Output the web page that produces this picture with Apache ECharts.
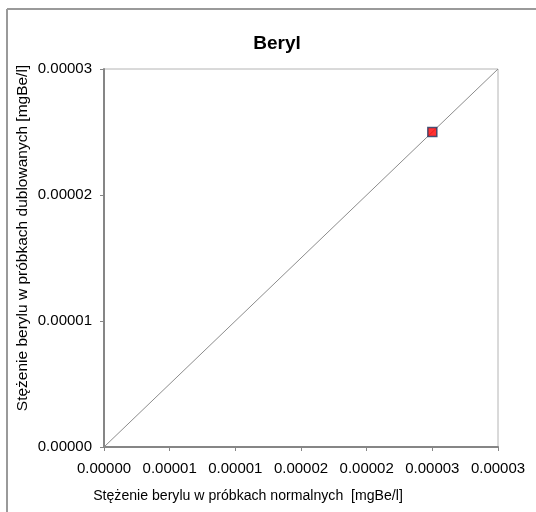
<!DOCTYPE html>
<html>
<head>
<meta charset="utf-8">
<script src="https://cdn.jsdelivr.net/npm/echarts@6/dist/echarts.min.js"></script>
<style>
html,body{margin:0;padding:0;background:#fff;}
#c{width:536px;height:512px;}
</style>
</head>
<body>
<div id="c"></div>
<script>
var title = 'Beryl';
var xName = 'Stężenie berylu w próbkach normalnych  [mgBe/l]';
var yName = 'Stężenie berylu w próbkach dublowanych [mgBe/l]';
var xTickLabels = ['0.00000','0.00001','0.00001','0.00002','0.00002','0.00003','0.00003'];
var yTickLabels = ['0.00000','0.00001','0.00002','0.00003'];
var lineX = [0, 0.00003];
var lineY = [0, 0.00003];
var pointX = [0.000025];
var pointY = [0.000025];

var FONT = '"Liberation Sans",Arial,sans-serif';
var chart = echarts.init(document.getElementById('c'), null, {renderer:'canvas'});
chart.setOption({
  animation:false,
  backgroundColor:'#fff',
  title:{text:title,left:272,top:29,textAlign:'center',
    textStyle:{fontFamily:FONT,fontSize:19,fontWeight:'bold',color:'#000'}},
  grid:{left:104,top:69,right:38,bottom:65,show:true,borderColor:'#b4b4b4',borderWidth:1,backgroundColor:'#fff'},
  xAxis:{type:'value',min:0,max:0.00003,interval:0.000005,
    axisLine:{show:true,lineStyle:{color:'#868686',width:2}},
    axisTick:{show:true,length:4,lineStyle:{color:'#868686',width:1}},
    splitLine:{show:false},
    axisLabel:{margin:14,color:'#000',fontFamily:FONT,fontSize:15,
      formatter:function(v){return xTickLabels[Math.round(v/0.000005)];}}
  },
  yAxis:{type:'value',min:0,max:0.00003,interval:0.00001,
    axisLine:{show:true,lineStyle:{color:'#868686',width:2}},
    axisTick:{show:true,length:4,lineStyle:{color:'#868686',width:1}},
    splitLine:{show:false},
    axisLabel:{margin:12,color:'#000',fontFamily:FONT,fontSize:15,
      formatter:function(v){return yTickLabels[Math.round(v/0.00001)];}}
  },
  graphic:[
    {type:'line',shape:{x1:7,y1:9,x2:536,y2:9},style:{stroke:'#9a9a9a',lineWidth:2},z:100},
    {type:'line',shape:{x1:7,y1:9,x2:7,y2:512},style:{stroke:'#9a9a9a',lineWidth:2},z:100},
    {type:'text',x:248,y:496,scaleX:0.91,style:{text:xName,x:0,y:0,align:'center',verticalAlign:'middle',
      font:'15.5px '+FONT,fill:'#000'}},
    {type:'text',rotation:Math.PI/2,x:23,y:238,style:{text:yName,x:0,y:0,align:'center',verticalAlign:'middle',
      font:'15.5px '+FONT,fill:'#000'}}
  ],
  series:[
    {type:'line',data:lineX.map(function(x,i){return [x,lineY[i]];}),symbol:'none',
      lineStyle:{color:'#8c8c8c',width:1},silent:true},
    {type:'scatter',data:pointX.map(function(x,i){return [x,pointY[i]];}),symbol:'rect',symbolSize:9,
      itemStyle:{color:'#ff0000',borderColor:'#1f3864',borderWidth:1.5},z:5}
  ]
});
</script>
</body>
</html>
